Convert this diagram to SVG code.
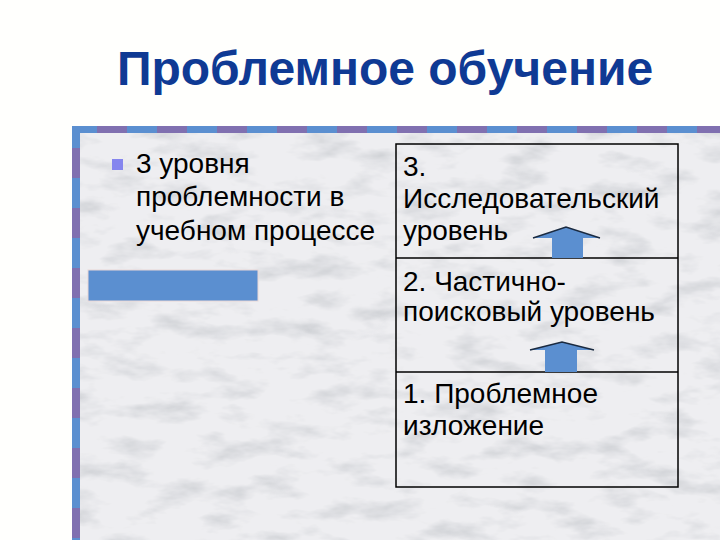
<svg xmlns="http://www.w3.org/2000/svg" width="720" height="540" viewBox="0 0 720 540">
<defs>
<filter id="marble" x="0" y="0" width="100%" height="100%">
<feTurbulence type="fractalNoise" baseFrequency="0.02 0.05" numOctaves="4" seed="7" result="n"/>
<feColorMatrix in="n" type="matrix" values="0 0 0 0 0.55  0 0 0 0 0.57  0 0 0 0 0.6  -1.8 0 0 0 0.95" result="veins"/>
<feFlood flood-color="#eeeef1" result="base"/>
<feComposite in="veins" in2="base" operator="over"/>
</filter>
<style>
.t{font-family:"Liberation Sans",Arial,sans-serif;font-size:28px;fill:#000}
.title{font-family:"Liberation Sans",Arial,sans-serif;font-size:48px;font-weight:bold;fill:#0f3a94}
.arrow{fill:#5b8fd0;stroke:none}
.ahead{fill:none;stroke:#1a2a40;stroke-width:1.5}
.box{fill:none;stroke:#000;stroke-width:1.5}
</style>
</defs>
<rect width="720" height="540" fill="#fffffd"/>
<rect x="80" y="133" width="640" height="407" fill="#ececef" filter="url(#marble)"/>
<g id="border">
<line x1="72" y1="129.5" x2="720" y2="129.5" stroke="#5b8fd0" stroke-width="7"/>
<line x1="72" y1="129.5" x2="720" y2="129.5" stroke="#8070b0" stroke-width="7" stroke-dasharray="30 30" stroke-dashoffset="-25"/>
<line x1="76" y1="126" x2="76" y2="540" stroke="#5b8fd0" stroke-width="8"/>
<line x1="76" y1="126" x2="76" y2="540" stroke="#8070b0" stroke-width="8" stroke-dasharray="30 30" stroke-dashoffset="-22"/>
</g>
<g id="title"><text class="title" x="385" y="85" text-anchor="middle">Проблемное обучение</text></g>
<g id="bullet">
<rect x="112" y="159" width="11" height="11" fill="#8585ee"/>
<text class="t" x="136" y="173">3 уровня</text>
<text class="t" x="136" y="206">проблемности в</text>
<text class="t" x="136" y="240">учебном процессе</text>
</g>
<g id="bluebar"><rect x="88" y="270" width="170" height="31" fill="#5b8fd0" stroke="#e8d6d6" stroke-width="1"/></g>
<g id="levels">
<rect class="box" x="396" y="144" width="282" height="343"/>
<line class="box" x1="396" y1="258" x2="678" y2="258"/>
<line class="box" x1="396" y1="372" x2="678" y2="372"/>
<g id="level3">
<text class="t" x="403" y="176">3.</text>
<text class="t" x="403" y="208">Исследовательский</text>
<text class="t" x="403" y="240">уровень</text>
</g>
<g id="level2">
<text class="t" x="403" y="291">2. Частично-</text>
<text class="t" x="403" y="321">поисковый уровень</text>
</g>
<g id="level1">
<text class="t" x="403" y="403">1. Проблемное</text>
<text class="t" x="403" y="435">изложение</text>
</g>
</g>
<g id="connectors">
<polygon class="arrow" points="552,258 552,238 533,238 566,227 600,238 583,238 583,258"/>
<polyline class="ahead" points="533,238 566,227 600,238"/>
<polygon class="arrow" points="545,372 545,350 530,350 562,342 594,350 577,350 577,372"/>
<polyline class="ahead" points="530,350 562,342 594,350"/>
</g>
</svg>
